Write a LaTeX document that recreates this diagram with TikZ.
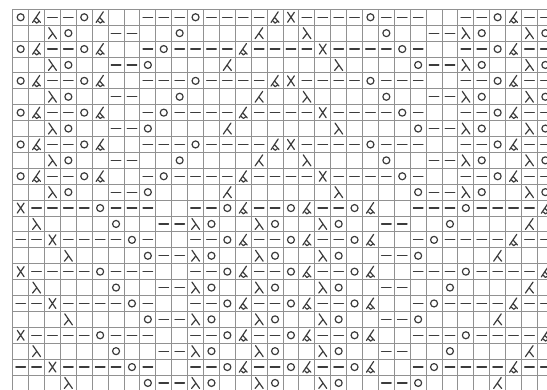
\documentclass[tikz,border=0pt]{standalone}
\usepackage{tikz}
\definecolor{gridc}{RGB}{145,145,145}
\definecolor{symc}{RGB}{60,60,60}
\tikzset{
  gridline/.style={draw=gridc, line width=0.9pt},
  sym/.style={draw=symc, line width=1.2pt, line cap=round, line join=round}
}
\def\knito{\draw[sym] (0,0) circle[radius=3.5pt];}
\def\knitd{\draw[sym] (-4.8,0) -- (4.8,0);}
\def\knitx{\draw[sym] (-3.4,-5) -- (3.4,5) (3.4,-5) -- (-3.4,5);}
\def\knitl{\draw[sym] (-3.6,-5.5) -- (4,5.5) (0.3,0.2) -- (-4,5.5);}
\def\knitr{\draw[sym] (3.6,-5.5) -- (-4,5.5) (-0.3,0.2) -- (4,5.5);}
\def\knitu{\draw[sym] (3.2,-5.5) -- (-4,5.2) (-0.5,0.2) -- (4,5.2);
  \draw[sym] (-1.9,3.9) .. controls (-1.4,6.4) and (1.6,6.4) .. (2.3,4.3);}
\def\knitn{}
\expandafter\def\csname rowdata0\endcsname{o,u,d,d,o,u,n,n,d,d,d,o,d,d,d,d,u,x,d,d,d,d,o,d,d,d,n,n,d,d,o,u,d,d}
\expandafter\def\csname rowdata1\endcsname{n,n,l,o,n,n,d,d,n,n,o,n,n,n,n,r,n,n,l,n,n,n,n,o,n,n,d,d,l,o,n,n,l,o}
\expandafter\def\csname rowdata2\endcsname{o,u,d,d,o,u,n,n,d,o,d,d,d,d,u,d,d,d,d,x,d,d,d,d,o,d,n,n,d,d,o,u,d,d}
\expandafter\def\csname rowdata3\endcsname{n,n,l,o,n,n,d,d,o,n,n,n,n,r,n,n,n,n,n,n,l,n,n,n,n,o,d,d,l,o,n,n,l,o}
\expandafter\def\csname rowdata4\endcsname{x,d,d,d,d,o,d,d,d,n,n,d,d,o,u,d,d,o,u,d,d,o,u,n,n,d,d,d,o,d,d,d,d,u}
\expandafter\def\csname rowdata5\endcsname{n,l,n,n,n,n,o,n,n,d,d,l,o,n,n,l,o,n,n,l,o,n,n,d,d,n,n,o,n,n,n,n,r,n}
\expandafter\def\csname rowdata6\endcsname{d,d,x,d,d,d,d,o,d,n,n,d,d,o,u,d,d,o,u,d,d,o,u,n,n,d,o,d,d,d,d,u,d,d}
\expandafter\def\csname rowdata7\endcsname{n,n,n,l,n,n,n,n,o,d,d,l,o,n,n,l,o,n,n,l,o,n,n,d,d,o,n,n,n,n,r,n,n,n}
\begin{document}
\begin{tikzpicture}[x=1pt,y=-1pt]
\useasboundingbox (0,0) rectangle (547,389);
\fill[white] (0,0) rectangle (547,389);
\begin{scope}
\clip (0,0) rectangle (547,389);
\foreach \i in {0,...,34}{
  \draw[gridline] ({12.7+15.9*\i},9.3) -- ({12.7+15.9*\i},{9.3+15.9*24});
}
\foreach \j in {0,...,24}{
  \draw[gridline] (12.7,{9.3+15.9*\j}) -- ({12.7+15.9*34},{9.3+15.9*\j});
}
\foreach \j in {0,...,23}{
  \pgfmathtruncatemacro\k{mod(\j,4)+4*(\j>11)}
  \edef\cur{\csname rowdata\k\endcsname}
  \foreach \s [count=\i from 0] in \cur {
    \begin{scope}[shift={({12.7+15.9*(\i+0.5)},{9.3+15.9*(\j+0.5)})}]
      \csname knit\s\endcsname
    \end{scope}
  }
}
\end{scope}
\end{tikzpicture}
\end{document}
